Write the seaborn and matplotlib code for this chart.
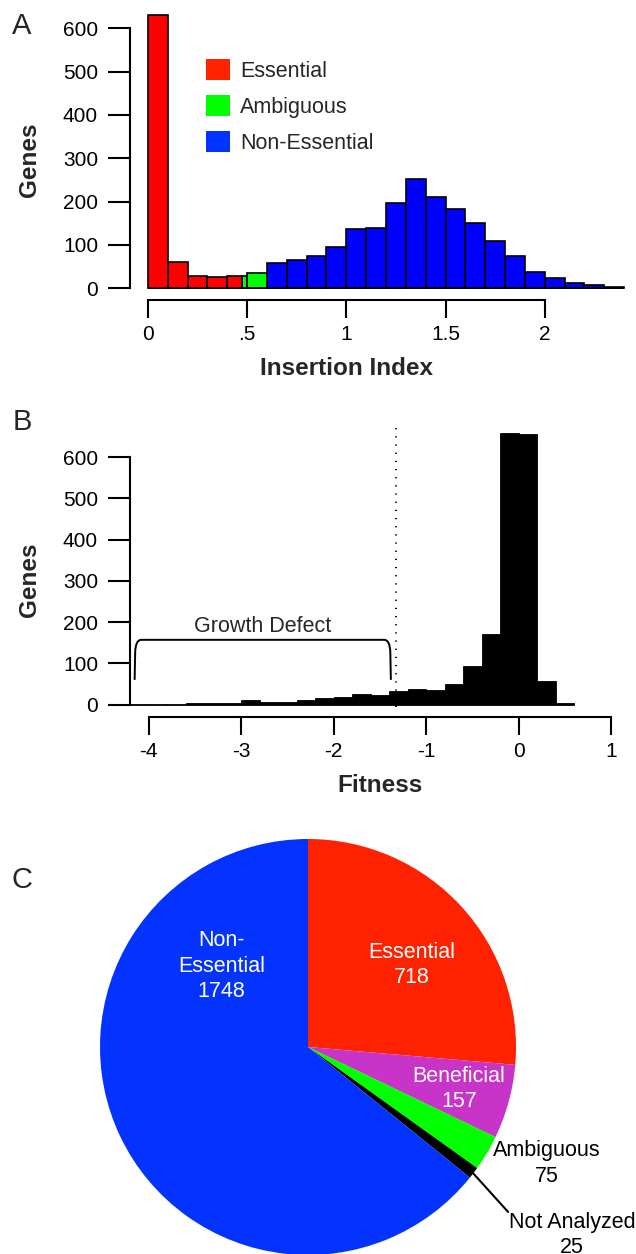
"""
Three-panel gene summary: insertion index histogram, fitness histogram
and the essentiality pie.
"""

import numpy as np
import matplotlib
matplotlib.use("Agg")
import matplotlib.pyplot as plt
from matplotlib.patches import Patch
from matplotlib.path import Path
from matplotlib.patches import PathPatch
import seaborn as sns

# Panel A: insertion index histogram (bin edges, genes per bin, call per bin)
ins_edges = [0.0, 0.1, 0.2, 0.3, 0.4, 0.475, 0.5, 0.6, 0.7, 0.8, 0.9, 1.0,
             1.1, 1.2, 1.3, 1.4, 1.5, 1.6, 1.7, 1.8, 1.9, 2.0, 2.1, 2.2,
             2.3, 2.4]
ins_counts = [630, 60, 28, 25, 28, 28, 36, 58, 66, 74, 96, 137, 140, 197,
              253, 211, 183, 151, 109, 74, 38, 23, 12, 8, 3]
ins_class = (["Essential"] * 5 + ["Ambiguous"] * 2 + ["Non-Essential"] * 18)
ins_ticks = [0, 0.5, 1, 1.5, 2]
ins_ticklabels = ["0", ".5", "1", "1.5", "2"]

# Panel B: fitness histogram
fit_edges = [-4.2, -4.0, -3.8, -3.6, -3.4, -3.2, -3.0, -2.8, -2.6, -2.4,
             -2.2, -2.0, -1.8, -1.6, -1.4, -1.2, -1.0, -0.8, -0.6, -0.4,
             -0.2, 0.0, 0.2, 0.4, 0.6]
fit_counts = [1, 1, 1, 5, 3, 3, 10, 6, 7, 12, 17, 19, 25, 24, 32, 38, 36,
              50, 94, 171, 657, 656, 57, 5]
fit_ticks = [-4, -3, -2, -1, 0, 1]
fit_cutoff = -1.32
growth_defect_span = (-4.15, -1.38)

# Panel C: gene calls
pie_labels = ["Essential", "Beneficial", "Ambiguous", "Not Analyzed",
              "Non-Essential"]
pie_counts = [718, 157, 75, 25, 1748]

gene_ticks = [0, 100, 200, 300, 400, 500, 600]

bar_colors = {"Essential": "#ff0000", "Ambiguous": "#00ff00",
              "Non-Essential": "#0000ff"}
key_colors = {"Essential": "#ff2200", "Ambiguous": "#00ff00",
              "Non-Essential": "#0033ff"}
pie_colors = ["#ff2200", "#c833c8", "#00ff00", "#000000", "#0433ff"]

sns.set_style("ticks")
plt.rcParams["font.family"] = ["Liberation Sans", "DejaVu Sans"]

W, H = 636, 1254
fig = plt.figure(figsize=(W / 100, H / 100), dpi=100)


def px_axes(left, top, right, bottom):
    return fig.add_axes([left / W, 1 - bottom / H, (right - left) / W,
                         (bottom - top) / H])


def style_axes(ax, xb, yb):
    for s in ["top", "right"]:
        ax.spines[s].set_visible(False)
    for s in ["left", "bottom"]:
        ax.spines[s].set_linewidth(1.5)
        ax.spines[s].set_color("black")
    ax.spines["left"].set_bounds(*yb)
    ax.spines["bottom"].set_bounds(*xb)
    ax.tick_params(axis="y", length=16, width=1.5, pad=7, labelsize=15,
                   colors="black")
    ax.tick_params(axis="x", length=13, width=1.5, pad=5, labelsize=15,
                   colors="black")
    ax.set_yticks(gene_ticks)
    ax.set_facecolor("white")


# ---- Panel A
axA = px_axes(130, 0, 636, 300)
ins_edges_a = np.array(ins_edges)
ins_mid = (ins_edges_a[:-1] + ins_edges_a[1:]) / 2
sns.histplot(x=ins_mid, weights=ins_counts, hue=ins_class, bins=ins_edges,
             palette=bar_colors, hue_order=list(bar_colors), alpha=1,
             edgecolor="black", linewidth=1.2, legend=False, ax=axA)
axA.set_xlim(-0.09, 2.46)
axA.set_ylim(-27, 665)
style_axes(axA, (0, 2), (0, 600))
axA.set_xticks(ins_ticks)
axA.set_xticklabels(ins_ticklabels)
axA.set_xlabel("Insertion Index", fontsize=17.5, fontweight="bold")
axA.set_ylabel("Genes", fontsize=17.5, fontweight="bold")
axA.xaxis.set_label_coords(0.428, -0.227)
axA.xaxis.label.set_verticalalignment("center")
axA.yaxis.set_label_coords(-0.198, 0.467)
axA.yaxis.label.set_verticalalignment("center")
handles = [Patch(facecolor=c, edgecolor="none") for c in key_colors.values()]
axA.legend(handles, list(key_colors), loc="upper left",
           bbox_to_anchor=(206 / W, 1 - 59 / H), bbox_transform=fig.transFigure,
           frameon=False, fontsize=15.5, handlelength=1.1, handleheight=1.12,
           handletextpad=0.5, labelspacing=0.62, borderpad=0, borderaxespad=0)

# ---- Panel B
axB = px_axes(130, 405, 636, 717)
fit_edges_a = np.array(fit_edges)
fit_mid = (fit_edges_a[:-1] + fit_edges_a[1:]) / 2
sns.histplot(x=fit_mid, weights=fit_counts, bins=fit_edges, color="black",
             edgecolor="black", linewidth=0.6, alpha=1, ax=axB)
axB.set_xlim(-4.2, 1.27)
axB.set_ylim(-30, 726)
style_axes(axB, (-4, 1), (0, 600))
axB.set_xticks(fit_ticks)
axB.set_xticklabels([str(t) for t in fit_ticks])
axB.set_xlabel("Fitness", fontsize=17.5, fontweight="bold")
axB.set_ylabel("Genes", fontsize=17.5, fontweight="bold")
axB.xaxis.set_label_coords(0.495, -0.219)
axB.xaxis.label.set_verticalalignment("center")
axB.yaxis.set_label_coords(-0.198, 0.44)
axB.yaxis.label.set_verticalalignment("center")
axB.plot([fit_cutoff, fit_cutoff], [-6, 678], color="black", lw=1.4,
         linestyle=(0, (0.6, 3.6)), clip_on=False)

x0, x1 = growth_defect_span
ylo, yhi = 60, 157
verts = [(x0, ylo), (x0 + 0.006, 128), (x0 + 0.012, yhi), (x0 + 0.07, yhi),
         (x1 - 0.07, yhi), (x1 - 0.012, yhi), (x1 - 0.006, 128), (x1, ylo)]
codes = [Path.MOVETO, Path.LINETO, Path.CURVE3, Path.CURVE3, Path.LINETO,
         Path.CURVE3, Path.CURVE3, Path.LINETO]
axB.add_patch(PathPatch(Path(verts, codes), facecolor="none",
                        edgecolor="black", lw=1.4))
axB.text((x0 + x1) / 2, 190, "Growth Defect", ha="center", va="center",
         fontsize=15.5)

# ---- Panel C
axC = px_axes(0, 830, 636, 1254)
R = 208.0
cx, cy = 308.0, 1047.0
axC.pie(pie_counts, colors=pie_colors, startangle=90, counterclock=False,
        radius=1, wedgeprops=dict(linewidth=0))
axC.set_xlim(-cx / R, (W - cx) / R)
axC.set_ylim((cy - H) / R, (cy - 830) / R)
axC.set_aspect("auto")
axC.axis("off")

label_pos = [(0.50, 0.394), (0.726, -0.202), (1.149, -0.562),
             (1.27, -0.904), (-0.415, 0.389)]
label_col = ["white", "white", "black", "black", "white"]
for name, n, (lx, ly), col in zip(pie_labels, pie_counts, label_pos,
                                  label_col):
    txt = f"{name}\n{n}"
    if name == "Non-Essential":
        txt = f"Non-\nEssential\n{n}"
    axC.text(lx, ly, txt, ha="center", va="center", color=col, fontsize=15.5,
             linespacing=1.3, clip_on=False)
axC.plot([0.793, 0.962], [-0.606, -0.793], color="black", lw=1.5)

for letter, ypx in [("A", 26), ("B", 422), ("C", 880)]:
    fig.text(22 / W, 1 - ypx / H, letter, ha="center", va="center",
             fontsize=21)

fig.savefig("out.png", dpi=100, facecolor="white")
